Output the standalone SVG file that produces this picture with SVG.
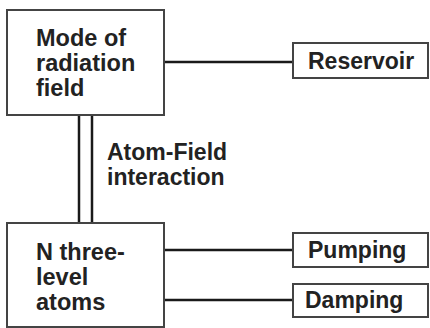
<svg xmlns="http://www.w3.org/2000/svg" width="430" height="328" viewBox="0 0 430 328">
<style>
.box{fill:#fff;stroke:#444;stroke-width:2}
.ln{stroke:#1a1a1a;stroke-width:2.5;fill:none}
text{font-family:"Liberation Sans",Arial,sans-serif;font-weight:bold;font-size:23px;fill:#222}
.big{font-size:23.5px}
</style>
<rect width="430" height="328" fill="#fff"/>
<g id="connectors">
<line class="ln" x1="164" y1="62" x2="293" y2="62"/>
<line class="ln" x1="164" y1="250" x2="293" y2="250"/>
<line class="ln" x1="164" y1="300" x2="293" y2="300"/>
<line class="ln" x1="79" y1="115" x2="79" y2="223" stroke-width="3"/>
<line class="ln" x1="92" y1="115" x2="92" y2="223" stroke-width="3"/>
<text x="107" y="160">Atom-Field</text>
<text x="107" y="185">interaction</text>
</g>
<g id="mode">
<rect class="box" x="7" y="10" width="157" height="105"/>
<text class="big" x="36" y="46">Mode of</text>
<text class="big" x="36" y="71">radiation</text>
<text class="big" x="36" y="96">field</text>
</g>
<g id="atoms">
<rect class="box" x="7" y="223" width="157" height="104"/>
<text class="big" x="36" y="260">N three-</text>
<text class="big" x="36" y="285">level</text>
<text class="big" x="36" y="310">atoms</text>
</g>
<g id="reservoir">
<rect class="box" x="293" y="43" width="135" height="35"/>
<text x="308" y="69">Reservoir</text>
</g>
<g id="pumping">
<rect class="box" x="293" y="233" width="135" height="34"/>
<text x="308" y="258">Pumping</text>
</g>
<g id="damping">
<rect class="box" x="293" y="284" width="135" height="33"/>
<text x="305" y="308">Damping</text>
</g>
</svg>
